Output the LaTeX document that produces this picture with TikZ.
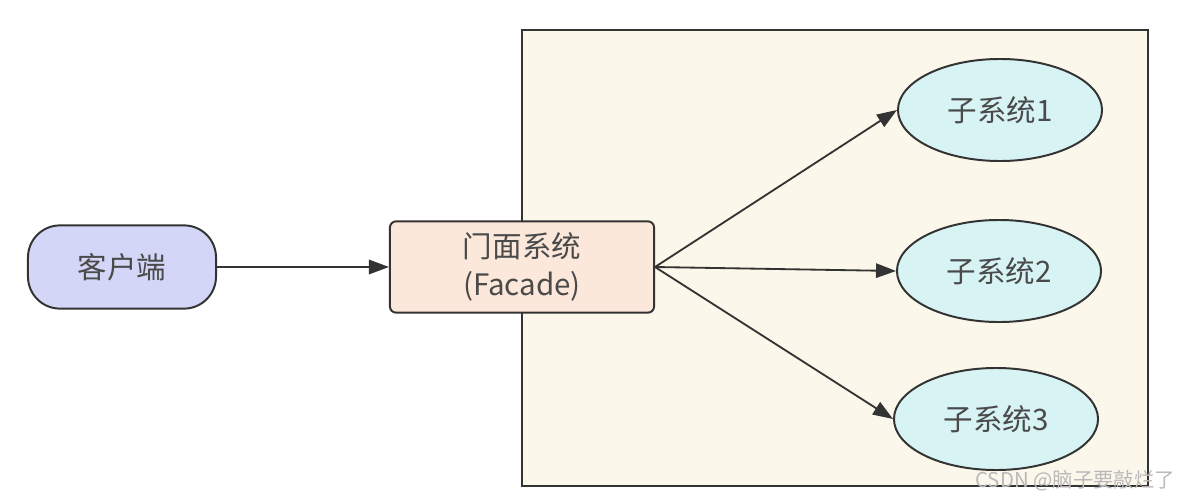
\documentclass[tikz,border=0pt]{standalone}
\usepackage{fontspec}
\setmainfont{Noto Sans CJK SC}
\usepackage{xcolor}
\usetikzlibrary{shapes,arrows.meta,positioning,calc}

\definecolor{clientfill}{HTML}{D3D6F6}
\definecolor{facadefill}{HTML}{FBE8DA}
\definecolor{subfill}{HTML}{D8F3F4}
\definecolor{groupfill}{HTML}{FBF7EA}
\definecolor{edgegray}{HTML}{333333}
\definecolor{textgray}{HTML}{4A4A4A}

\tikzset{
    base/.style={draw=edgegray,line width=1.4pt,text=textgray,inner sep=0pt,
        font=\fontsize{21}{27}\selectfont,align=center},
    client/.style={base,rectangle,rounded corners=0.8cm,fill=clientfill,
        minimum width=4.7cm,minimum height=2.08cm},
    facade/.style={base,rectangle,rounded corners=0.15cm,fill=facadefill,
        minimum width=6.6cm,minimum height=2.28cm},
    subsys/.style={base,ellipse,fill=subfill,minimum width=5.1cm,minimum height=2.55cm},
    link/.style={draw=edgegray,line width=1.3pt,-{Triangle[length=0.5cm,width=0.36cm]}}
}

\begin{document}
\begin{tikzpicture}[x=0.025cm,y=-0.025cm]
    \useasboundingbox (0,0) rectangle (1190,500);

    % subsystem area
    \draw[draw=edgegray,line width=1.4pt,fill=groupfill] (522,30) rectangle (1148,486);

    \node[client] (client) at (122,267) {客户端};
    \node[facade] (facade) at (522,267) {门面系统\\(Facade)};

    \foreach \i/\x/\y in {1/1000/110, 2/999/271, 3/996/419} {
        \node[subsys] (sub\i) at (\x,\y) {子系统\i};
        \draw[link] (facade.east) -- (sub\i.west);
    }

    \draw[link] (client.east) -- (facade.west);

    \node[text=gray!55,font=\fontsize{14.5}{16}\selectfont,anchor=east] (mark) at (1180,481) {CSDN @脑子要敲烂了};
\end{tikzpicture}
\end{document}
